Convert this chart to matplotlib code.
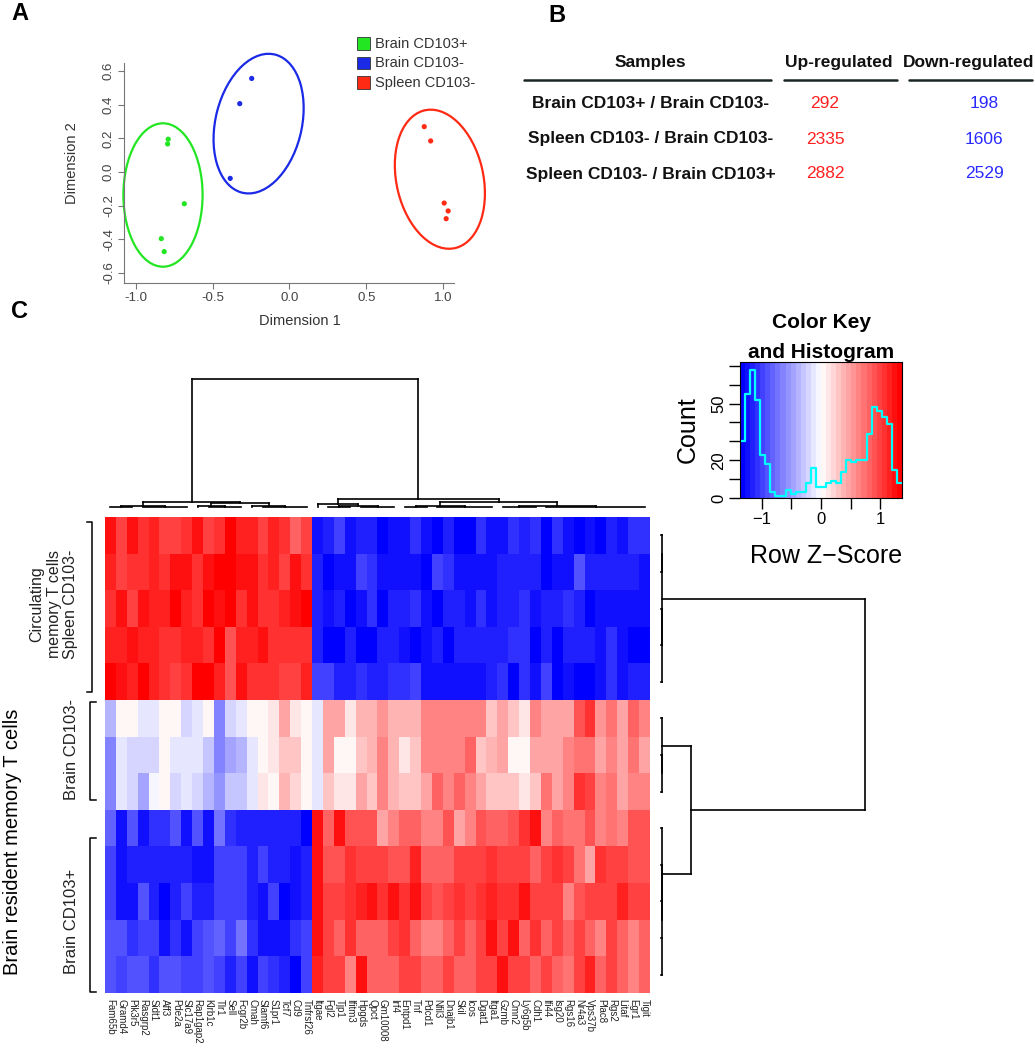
import numpy as np
import matplotlib
matplotlib.use("Agg")
import matplotlib.pyplot as plt
from matplotlib.colors import LinearSegmentedColormap
from matplotlib.patches import Ellipse, Rectangle
from matplotlib.ticker import FormatStrFormatter

plt.rcParams['font.family'] = ['Liberation Sans', 'DejaVu Sans']

W, H = 1035, 1050

# ---------------- Panel A : MDS plot ----------------
groups = ["Brain CD103+", "Brain CD103-", "Spleen CD103-"]
group_colors = ["#22E622", "#1A2AE6", "#FF2A14"]
brain_pos_x = [-0.790, -0.794, -0.685, -0.835, -0.816]
brain_pos_y = [0.195, 0.167, -0.189, -0.397, -0.474]
brain_neg_x = [-0.246, -0.324, -0.386]
brain_neg_y = [0.557, 0.407, -0.038]
spleen_x = [0.878, 0.920, 1.008, 1.034, 1.021]
spleen_y = [0.270, 0.185, -0.185, -0.232, -0.278]
ell_cx = [-0.824, -0.201, 0.980]
ell_cy = [-0.137, 0.288, -0.043]
ell_a = [0.427, 0.425, 0.422]
ell_b = [0.258, 0.280, 0.282]
ell_angle = [90, 74, 105]

# ---------------- Panel B : DE gene table ----------------
comparisons = ["Brain CD103+ / Brain CD103-",
               "Spleen CD103- / Brain CD103-",
               "Spleen CD103- / Brain CD103+"]
up_regulated = [292, 2335, 2882]
down_regulated = [198, 1606, 2529]

# ---------------- Panel C : heatmap ----------------
genes = ["Fam65b", "Gramd4", "Pik3r5", "Rasgrp2", "Sidt1", "Aff3", "Pde2a",
         "Slc17a9", "Rap1gap2", "Klrb1c", "Tlr1", "Sell", "Fcgr2b", "Cmah",
         "Slamf6", "S1pr1", "Tcf7", "Cd9", "Tnfrsf26", "Itgae", "Fgl2", "Tjp1",
         "Ifitm3", "Hpgds", "Qpct", "Gm10008", "Irf4", "Entpd1", "Tnf", "Pdcd1",
         "Nfil3", "Dnajb1", "Skil", "Icos", "Dgat1", "Itga1", "Gzmb", "Cmn2",
         "Ly6g5b", "Cdh1", "Ifi44", "Isg20", "Rgs16", "Nr4a3", "Vps37b",
         "Plac8", "Rgs2", "Litaf", "Egr1", "Tigit"]

zscores = [
    # Spleen CD103-
    [1.20, 1.00, 1.28, 1.08, 1.17, 1.00, 1.00, 1.11, 1.20, 1.00, 1.11, 1.37, 1.17, 1.17, 1.00, 1.17, 1.03, 0.85, 1.00]
    + [-1.20, -1.17, -1.00, -1.26, -1.17, -1.17, -1.37, -1.26, -1.26, -1.03, -1.26, -1.34, -1.17, -1.37, -1.37, -1.08,
       -1.26, -1.26, -1.08, -1.17, -1.08, -1.34, -1.03, -1.26, -1.34, -1.26, -1.37, -1.17, -1.26, -1.03, -1.03],
    [1.17, 1.00, 1.06, 1.06, 1.15, 1.08, 1.28, 1.20, 1.06, 1.20, 1.37, 1.37, 1.20, 1.26, 1.08, 1.17, 1.00, 1.28, 1.11]
    + [-1.15, -1.37, -1.22, -1.22, -0.98, -1.11, -1.20, -1.20, -1.20, -1.20, -1.37, -0.98, -1.06, -1.20, -1.20, -1.20,
       -1.20, -1.15, -1.15, -1.15, -1.15, -1.37, -1.22, -1.22, -0.94, -1.15, -1.15, -1.15, -1.15, -1.15, -1.20],
    [1.08, 1.28, 1.00, 1.28, 1.17, 1.17, 1.37, 1.17, 1.08, 1.37, 1.28, 1.37, 1.11, 1.26, 1.03, 1.11, 1.17, 1.26, 1.34]
    + [-1.17, -1.26, -1.17, -1.37, -1.26, -1.11, -1.37, -1.17, -1.17, -1.11, -1.26, -1.37, -1.17, -1.17, -1.20, -1.08,
       -1.26, -1.17, -1.17, -1.08, -1.26, -1.17, -1.17, -1.03, -1.17, -1.34, -1.26, -1.26, -1.26, -1.26, -1.26],
    [1.17, 1.17, 1.28, 1.17, 1.17, 1.08, 1.08, 1.17, 1.17, 1.03, 1.34, 0.94, 1.17, 1.17, 1.26, 1.08, 1.03, 1.08, 1.08]
    + [-1.17, -1.34, -1.37, -1.17, -1.37, -1.37, -1.17, -1.17, -1.26, -1.37, -1.26, -1.17, -1.37, -1.17, -1.17, -1.17,
       -1.17, -1.17, -1.08, -1.03, -1.34, -1.17, -1.37, -1.17, -1.17, -1.17, -1.26, -1.08, -1.26, -1.37, -1.37],
    [1.37, 1.26, 1.17, 1.37, 1.17, 1.08, 1.00, 1.08, 1.34, 1.34, 1.17, 0.91, 1.28, 1.08, 1.08, 1.08, 1.00, 1.00, 1.17]
    + [-1.00, -1.00, -1.17, -1.17, -1.08, -1.17, -1.17, -1.08, -1.08, -1.00, -1.26, -1.26, -1.26, -1.26, -1.26, -1.26,
       -1.17, -1.08, -1.34, -1.08, -1.26, -1.00, -1.37, -1.26, -1.34, -1.37, -1.26, -1.08, -1.26, -1.17, -1.17],
    # Brain CD103-
    [-0.38, 0.00, 0.00, -0.12, -0.12, 0.00, 0.00, -0.21, -0.12, 0.00, -0.60, -0.21, -0.12, 0.00, 0.00, 0.12, 0.51, 0.12, 0.00, -0.12]
    + [0.47, 0.47, 0.17, 0.42, 0.42, 0.55, 0.42, 0.38, 0.38, 0.68, 0.68, 0.68, 0.64, 0.64, 0.64, 0.34, 0.47, 0.34,
       0.17, 0.60, 0.51, 0.51, 0.51, 0.94, 1.11, 0.55, 0.73, 0.51, 0.85, 0.64],
    [-0.60, -0.12, -0.21, -0.21, -0.21, 0.00, -0.12, -0.12, -0.12, -0.34, -0.60, -0.47, -0.38, -0.12, 0.08, 0.17, 0.30, 0.30, 0.00, -0.12]
    + [0.51, 0.08, 0.08, 0.34, 0.42, 0.64, 0.42, 0.17, 0.30, 0.60, 0.60, 0.64, 0.64, 0.81, 0.34, 0.42, 0.51, 0.00,
       0.08, 0.51, 0.51, 0.51, 0.60, 0.77, 0.77, 0.51, 0.60, 0.51, 0.77, 0.51],
    [-0.64, -0.12, -0.25, -0.47, -0.08, 0.05, -0.21, -0.12, -0.25, -0.42, -0.55, -0.30, -0.30, -0.12, 0.12, 0.08, 0.38, 0.21, 0.00, -0.12]
    + [0.34, 0.12, 0.12, 0.51, 0.30, 0.60, 0.42, 0.30, 0.34, 0.51, 0.81, 0.60, 0.81, 0.64, 0.47, 0.30, 0.34, 0.34,
       0.17, 0.30, 0.77, 0.51, 0.60, 1.03, 0.98, 0.60, 0.73, 0.51, 0.68, 0.60],
    # Brain CD103+
    [-0.85, -1.26, -0.94, -1.20, -1.11, -1.11, -0.94, -1.26, -0.94, -1.20, -0.77, -1.08, -1.15, -1.15, -1.15, -1.15, -1.15, -1.15, -1.37]
    + [1.20, 0.85, 1.28, 0.94, 0.94, 0.94, 0.51, 0.68, 0.85, 0.85, 0.68, 0.68, 0.94, 0.51, 0.68, 0.94, 0.85, 0.85,
       0.94, 1.11, 1.20, 0.60, 0.85, 0.77, 0.73, 0.89, 0.60, 0.77, 0.60, 0.94, 0.94],
    [-1.00, -1.26, -1.15, -1.15, -1.15, -1.15, -1.15, -1.15, -1.22, -1.22, -1.00, -1.00, -1.00, -1.15, -1.00, -1.15, -1.15, -1.28, -1.15]
    + [1.20, 0.91, 0.91, 1.06, 1.00, 1.00, 1.00, 0.94, 0.94, 1.15, 0.85, 0.85, 0.85, 0.98, 0.98, 0.98, 1.06, 1.00,
       1.00, 1.00, 0.85, 0.98, 1.06, 1.00, 0.77, 0.51, 1.06, 0.98, 0.98, 0.89, 0.89],
    [-1.00, -1.22, -1.22, -0.91, -1.15, -1.37, -1.15, -0.98, -1.15, -1.15, -0.98, -0.98, -0.98, -1.15, -1.28, -0.98, -1.37, -1.26, -1.15]
    + [1.20, 0.98, 0.98, 1.03, 1.15, 1.20, 1.08, 1.22, 1.08, 1.20, 1.00, 0.91, 1.00, 1.08, 1.00, 1.08, 1.15, 1.03,
       1.03, 1.26, 1.00, 1.00, 1.00, 0.60, 0.91, 1.00, 1.00, 1.00, 1.15, 1.00, 1.00],
    [-0.91, -0.91, -1.08, -1.00, -1.00, -1.20, -1.08, -1.20, -1.00, -0.91, -0.83, -1.00, -0.77, -1.08, -1.26, -1.20, -1.26, -1.08, -1.00]
    + [1.20, 1.00, 0.85, 1.03, 0.85, 0.85, 0.85, 1.00, 1.08, 0.85, 0.68, 0.68, 0.85, 1.00, 0.85, 1.00, 1.20, 1.00,
       1.20, 0.85, 1.08, 0.85, 1.00, 0.85, 1.00, 0.83, 0.68, 1.00, 0.85, 0.68, 0.85],
    [-0.91, -1.00, -0.91, -0.91, -1.08, -0.91, -0.91, -1.00, -1.00, -0.91, -1.00, -1.17, -1.00, -1.26, -1.00, -1.08, -1.17, -1.34, -1.00]
    + [1.17, 1.00, 1.00, 0.68, 1.20, 0.85, 0.85, 0.85, 1.00, 1.00, 0.83, 0.85, 1.00, 0.85, 0.85, 1.00, 1.00, 1.26,
       1.00, 1.00, 0.85, 1.00, 0.85, 0.77, 1.00, 1.17, 0.85, 1.00, 0.83, 0.68, 0.85],
]

# histogram of the colour key (counts per colour break)
key_counts = [30, 55, 68, 52, 23, 18, 3, 1, 1, 4, 2, 3, 3, 8, 16, 6,
              6, 8, 9, 8, 14, 20, 19, 20, 20, 34, 48, 46, 43, 39, 15, 8]
z_lim = 1.37

# dendrograms: (height, [children]); ints are leaf indices
col_tree = (128, [
    (5.3, [(1.0, [(0.3, [0, 1, 2]), (0.3, [3, 4, 5, 6, 7])]),
           (3.7, [(1.5, [8, (0.4, [9, 10, 11, 12])]),
                  (0.8, [13, (0.3, [14, 15, 16, 17, 18])])])]),
    (7.7, [(3.0, [19, (0.6, [(0.3, [20, 21, 22]), (0.3, [23, 24, 25, 26])])]),
           (5.3, [(1.0, [(0.3, [27, 28, 29]), (0.3, [30, 31, 32, 33, 34, 35])]),
                  (1.0, [(0.4, [36, 37, 38, 39]),
                         (0.3, [40, 41, 42, 43, 44, 45, 46, 47, 48, 49])])])]),
])
row_tree = (204, [
    (0.5, [(0.5, [0, 1]), (0.5, [2, 3, 4])]),
    (30, [(0.5, [5, (0.5, [6, 7])]),
          (0.5, [8, (0.5, [9, 10, 11, 12])])]),
])

Z = np.array(zscores)
assert Z.shape == (13, 50), Z.shape

fig = plt.figure(figsize=(W / 100, H / 100), dpi=100)


def px_axes(x0, y0, x1, y1):
    return fig.add_axes([x0 / W, 1 - y1 / H, (x1 - x0) / W, (y1 - y0) / H])


# ---- A ----
ax = px_axes(124, 63, 454, 283)
sets = [(brain_pos_x, brain_pos_y), (brain_neg_x, brain_neg_y), (spleen_x, spleen_y)]
for i, (xs, ys) in enumerate(sets):
    ax.scatter(xs, ys, s=14, color=group_colors[i], edgecolors="none", zorder=3)
    ax.add_patch(Ellipse((ell_cx[i], ell_cy[i]), 2 * ell_b[i], 2 * ell_a[i],
                         angle=ell_angle[i] - 90, fill=False, lw=1.6,
                         edgecolor=group_colors[i], clip_on=False))
ax.set_xlim(-1.078, 1.072)
ax.set_ylim(-0.661, 0.649)
ax.set_xticks([-1.0, -0.5, 0.0, 0.5, 1.0])
ax.set_yticks([-0.6, -0.4, -0.2, 0.0, 0.2, 0.4, 0.6])
ax.xaxis.set_major_formatter(FormatStrFormatter('%.1f'))
ax.yaxis.set_major_formatter(FormatStrFormatter('%.1f'))
for s in ["top", "right"]:
    ax.spines[s].set_visible(False)
for s in ["left", "bottom"]:
    ax.spines[s].set_color("#777777")
ax.tick_params(colors="#777777", labelcolor="#444444", labelsize=9.5, length=4.5, pad=2)
plt.setp(ax.get_yticklabels(), rotation=90, va="center")

# ---- C heatmap ----
cmap = LinearSegmentedColormap.from_list("bluered", ["#0000FF", "#FFFFFF", "#FF0000"], N=32)
axh = px_axes(105, 517, 650, 993)
axh.imshow(Z, cmap=cmap, vmin=-z_lim, vmax=z_lim, aspect="auto",
           interpolation="nearest", extent=(0, Z.shape[1], Z.shape[0], 0))
axh.set_xticks(np.arange(len(genes)) + 0.5)
axh.set_xticklabels(genes, rotation=270, fontsize=7, color="#222222")
axh.set_yticks([])
axh.tick_params(length=0, pad=4)
for s in axh.spines.values():
    s.set_visible(False)


def draw_tree(a, node, flip):
    if isinstance(node, int):
        return node + 0.5, 0.0
    h, kids = node
    pos = []
    for k in kids:
        p, kh = draw_tree(a, k, flip)
        seg = ([p, p], [kh, h])
        a.plot(*(seg[::-1] if flip else seg), color="black", lw=1.2, clip_on=False)
        pos.append(p)
    seg = ([pos[0], pos[-1]], [h, h])
    a.plot(*(seg[::-1] if flip else seg), color="black", lw=1.2, clip_on=False)
    return (pos[0] + pos[-1]) / 2, h


axc = px_axes(105, 379, 650, 507)
draw_tree(axc, col_tree, False)
axc.set_xlim(0, 50)
axc.set_ylim(0, 128)
axc.axis("off")

axr = px_axes(661, 517, 865, 993)
draw_tree(axr, row_tree, True)
axr.set_xlim(0, 204)
axr.set_ylim(13, 0)
axr.axis("off")

# ---- colour key ----
axk = px_axes(740, 362, 902, 498)
edges = np.linspace(-z_lim, z_lim, len(key_counts) + 1)
centers = (edges[:-1] + edges[1:]) / 2
axk.imshow(centers[None, :], cmap=cmap, vmin=-z_lim, vmax=z_lim, aspect="auto",
           extent=(edges[0], edges[-1], 0, 72), interpolation="nearest")
axk.step(edges, list(key_counts) + [key_counts[-1]], where="post", color="#00FFFF", lw=1.6)
axk.set_xlim(edges[0], edges[-1])
axk.set_ylim(0, 72)
axk.set_xticks([-1, -0.5, 0, 0.5, 1])
axk.set_xticklabels(["\u22121", "", "0", "", "1"])
axk.set_yticks(range(0, 80, 10))
axk.set_yticklabels(["0", "", "20", "", "", "50", "", ""])
axk.tick_params(labelsize=12, length=8, width=1, pad=2)
plt.setp(axk.get_yticklabels(), rotation=90, va="center")

# ---- text overlay in pixel coordinates ----
ov = fig.add_axes([0, 0, 1, 1])
ov.set_xlim(0, W)
ov.set_ylim(H, 0)
ov.axis("off")

for lab, (x, y) in zip("ABC", [(20, 14), (557, 16), (20, 312)]):
    ov.text(x, y, lab, fontsize=17, fontweight="bold", ha="center", va="center")

ov.text(300, 321, "Dimension 1", fontsize=10.5, color="#333333", ha="center", va="center")
ov.text(72, 163, "Dimension 2", fontsize=10.5, color="#333333", ha="center", va="center",
        rotation=90)
for i, g in enumerate(groups):
    y = 43.5 + i * 19.6
    ov.add_patch(Rectangle((357, y - 6.3), 12.6, 12.6, facecolor=group_colors[i],
                           edgecolor="#333333", lw=0.6))
    ov.text(375, y, g, fontsize=10.5, color="#333333", ha="left", va="center")

# table B
ov.text(650, 63, "Samples", fontsize=12.5, fontweight="bold", color="#111111",
        ha="center", va="center")
ov.text(839, 63, "Up-regulated", fontsize=12.5, fontweight="bold", color="#111111",
        ha="center", va="center")
ov.text(969, 63, "Down-regulated", fontsize=12.5, fontweight="bold", color="#111111",
        ha="center", va="center")
for x0, x1 in [(524, 771), (784, 897), (909, 1032)]:
    ov.plot([x0, x1], [80, 80], color="#1a2525", lw=1.8, solid_capstyle="round")
for i in range(len(comparisons)):
    y = 104 + i * 35
    ov.text(651, y, comparisons[i], fontsize=12.5, fontweight="bold", color="#111111",
            ha="center", va="center")
    ov.text(825, y, str(up_regulated[i]), fontsize=12.5, color="#FF2020",
            ha="center", va="center")
    ov.text(984, y, str(down_regulated[i]), fontsize=12.5, color="#2A2AFF",
            ha="center", va="center")

# colour key titles
ov.text(821, 323, "Color Key", fontsize=15, fontweight="bold", ha="center", va="center")
ov.text(821, 352, "and Histogram", fontsize=15, fontweight="bold", ha="center", va="center")
ov.text(688, 430, "Count", fontsize=18, rotation=90, ha="center", va="center")
ov.text(826, 556, "Row Z\u2212Score", fontsize=18, ha="center", va="center")

# row group labels and brackets
ov.text(54, 604, "Circulating\nmemory T cells\nSpleen CD103-", fontsize=11.5, rotation=90,
        ha="center", va="center", multialignment="center", linespacing=1.15, color="#222222")
ov.text(72, 750, "Brain CD103-", fontsize=12, rotation=90, ha="center", va="center",
        color="#222222")
ov.text(72, 921, "Brain CD103+", fontsize=12, rotation=90, ha="center", va="center",
        color="#222222")
ov.text(13, 842, "Brain resident memory T cells", fontsize=14.5, rotation=90,
        ha="center", va="center")
ov.plot([87, 92, 92, 87], [522, 522, 692, 692], color="black", lw=1.1)
ov.plot([96, 90, 90, 96], [702, 702, 800, 800], color="black", lw=1.1)
ov.plot([96, 90, 90, 96], [838, 838, 992, 992], color="black", lw=1.1)

fig.savefig("out.png", dpi=100)
